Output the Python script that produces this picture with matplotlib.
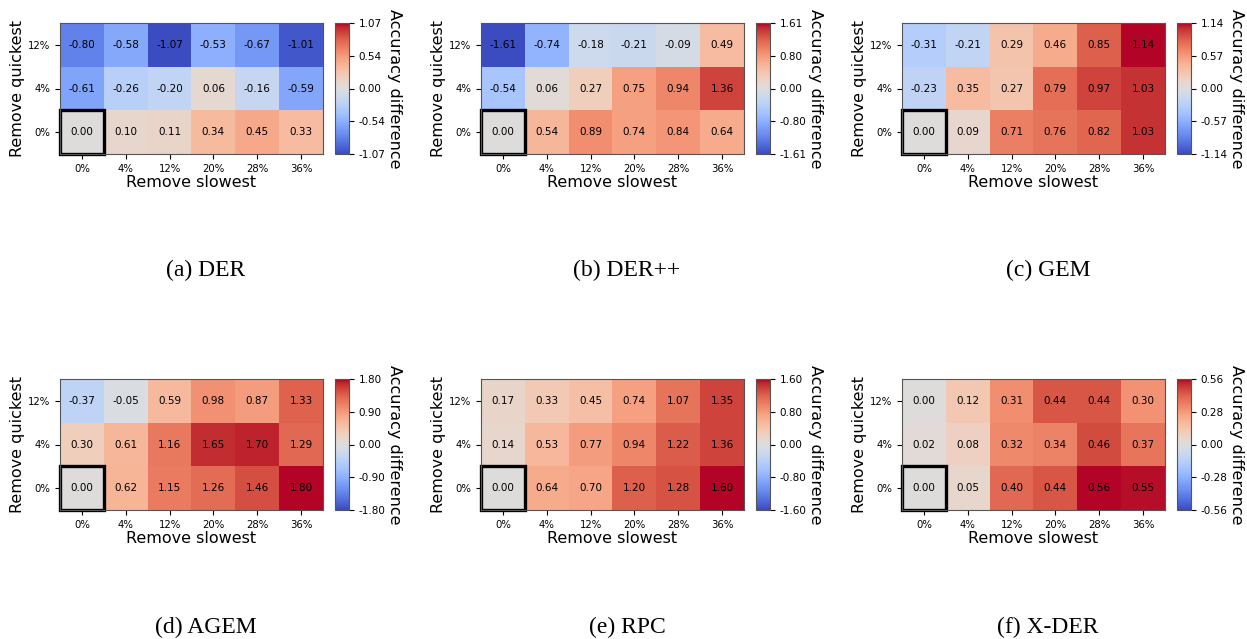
import matplotlib.pyplot as plt
from matplotlib.patches import Rectangle
import numpy as np

slowest = ['0%', '4%', '12%', '20%', '28%', '36%']
quickest = ['0%', '4%', '12%']   # bottom row first

# rows: remove quickest 0%, 4%, 12%
der = [[0.00, 0.10, 0.11, 0.34, 0.45, 0.33],
       [-0.61, -0.26, -0.20, 0.06, -0.16, -0.59],
       [-0.80, -0.58, -1.07, -0.53, -0.67, -1.01]]
derpp = [[0.00, 0.54, 0.89, 0.74, 0.84, 0.64],
         [-0.54, 0.06, 0.27, 0.75, 0.94, 1.36],
         [-1.61, -0.74, -0.18, -0.21, -0.09, 0.49]]
gem = [[0.00, 0.09, 0.71, 0.76, 0.82, 1.03],
       [-0.23, 0.35, 0.27, 0.79, 0.97, 1.03],
       [-0.31, -0.21, 0.29, 0.46, 0.85, 1.14]]
agem = [[0.00, 0.62, 1.15, 1.26, 1.46, 1.80],
        [0.30, 0.61, 1.16, 1.65, 1.70, 1.29],
        [-0.37, -0.05, 0.59, 0.98, 0.87, 1.33]]
rpc = [[0.00, 0.64, 0.70, 1.20, 1.28, 1.60],
       [0.14, 0.53, 0.77, 0.94, 1.22, 1.36],
       [0.17, 0.33, 0.45, 0.74, 1.07, 1.35]]
xder = [[0.00, 0.05, 0.40, 0.44, 0.56, 0.55],
        [0.02, 0.08, 0.32, 0.34, 0.46, 0.37],
        [0.00, 0.12, 0.31, 0.44, 0.44, 0.30]]

panels = [der, derpp, gem, agem, rpc, xder]
captions = ['(a) DER', '(b) DER++', '(c) GEM', '(d) AGEM', '(e) RPC', '(f) X-DER']
# colour limits (unrounded max |value|)
limits = [1.0702, 1.6052, 1.14, 1.80, 1.60, 0.56]

W, H = 1247, 639
fig = plt.figure(figsize=(W / 100, H / 100), dpi=100)

lefts = [60, 481, 902]
tops = [23, 379]
ax_w, ax_h = 263, 131
cb_off, cb_w = 275, 14
cap_y = [270, 627]

for k, data in enumerate(panels):
    r, c = divmod(k, 3)
    x0 = lefts[c]
    y0 = tops[r]
    ax = fig.add_axes([x0 / W, 1 - (y0 + ax_h) / H, ax_w / W, ax_h / H])
    cax = fig.add_axes([(x0 + cb_off) / W, 1 - (y0 + ax_h) / H, cb_w / W, ax_h / H])

    arr = np.array(data)
    m = limits[k]
    im = ax.imshow(arr, cmap='coolwarm', vmin=-m, vmax=m, origin='lower', aspect='auto')
    for i in range(arr.shape[0]):
        for j in range(arr.shape[1]):
            ax.text(j, i, f'{arr[i, j]:.2f}', ha='center', va='center', fontsize=7.5, color='black')
    ax.add_patch(Rectangle((-0.5, -0.5), 1, 1, fill=False, edgecolor='black', lw=2.4, clip_on=False))

    ax.set_xticks(range(len(slowest)))
    ax.set_xticklabels(slowest, fontsize=7.3)
    ax.set_yticks(range(len(quickest)))
    ax.set_yticklabels(quickest, fontsize=7.3)
    ax.set_xlabel('Remove slowest', fontsize=11.5, labelpad=1)
    ax.set_ylabel('Remove quickest', fontsize=11.5, labelpad=2)
    for s in ax.spines.values():
        s.set_color('#555555')

    cb = fig.colorbar(im, cax=cax)
    ticks = np.linspace(-m, m, 5)
    cb.set_ticks(ticks)
    cb.set_ticklabels([f'{t:.2f}' for t in ticks])
    cb.ax.tick_params(labelsize=7.5)
    cb.outline.set_edgecolor('#555555')
    cb.set_label('Accuracy difference', rotation=270, fontsize=11.5, labelpad=12)

    fig.text((x0 + 146) / W, 1 - cap_y[r] / H, captions[k], ha='center', va='center',
             fontsize=17, family='Liberation Serif')

fig.savefig('out.png', dpi=100)
